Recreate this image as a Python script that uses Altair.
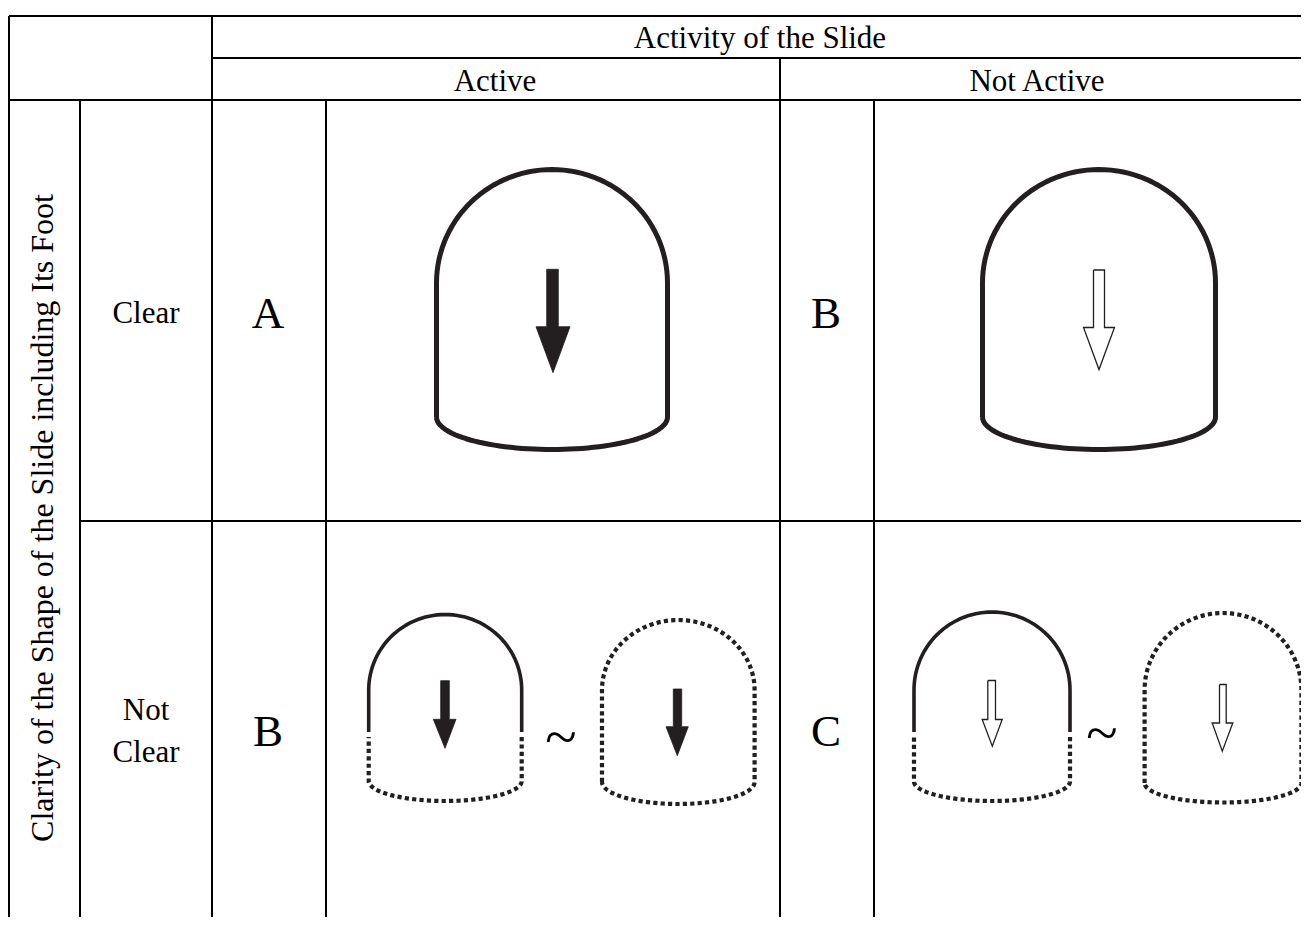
import math
import altair as alt
import pandas as pd

# ---------------- data ----------------
# table grid (horizontal rules: x1, x2, y ; vertical rules: x, y1, y2)
H_X1 = [9, 212, 9, 80]
H_X2 = [1309, 1309, 1309, 1309]
H_Y = [16, 58, 100, 521]
V_X = [9, 80, 212, 326, 780, 874]
V_Y1 = [16, 100, 16, 100, 58, 100]
V_Y2 = [929, 929, 929, 929, 929, 929]

# header / row texts
HEAD_TEXT = ["Activity of the Slide", "Active", "Not Active", "Clear", "Not", "Clear"]
HEAD_X = [760, 495, 1037, 146, 146, 146]
HEAD_Y = [48, 91, 91, 323, 720, 762]
SIDE_TEXT = ["Clarity of the Shape of the Slide including Its Foot"]
SIDE_X = [53]
SIDE_Y = [518]
GRADE_TEXT = ["A", "B", "B", "C"]
GRADE_X = [268, 826, 268, 826]
GRADE_Y = [328, 328, 746, 746]
TILDE_X = [561, 1102]
TILDE_Y = [756, 752]

# large slides (clear shape): centre x, half width, arch top, arch base, side bottom, foot bottom
BIG_CX = [552, 1099]
BIG_RX = [115.5, 116.5]
BIG_TOP = [169.5, 169.5]
BIG_BASE = [283, 283]
BIG_SIDE = [417, 417]
BIG_FOOT = [449.5, 449.5]

# small slides: half-solid ones (head clear, foot unclear)
HALF_CX = [445.2, 992]
HALF_RX = [76.5, 78]
HALF_TOP = [614.5, 612]
HALF_BASE = [690, 690]
HALF_SOLID_END = [732, 732]
HALF_DOT_START = [737, 737]
HALF_SIDE = [781, 781.5]
HALF_FOOT = [801, 801]

# small fully dotted slides
DOT_CX = [678.3, 1223]
DOT_RX = [76.3, 78.4]
DOT_TOP = [620, 613]
DOT_BASE = [690, 690]
DOT_SIDE = [782, 783]
DOT_FOOT = [804, 802.5]

# arrows: shaft left/right/top, head top/left/right, tip x/y, filled?
AR_SL = [546.7, 1093.5, 440.7, 673.3, 987.8, 1219.5]
AR_SR = [558.3, 1104.5, 449.3, 681.7, 995.5, 1226.2]
AR_ST = [269.3, 270, 680.7, 689, 680.5, 684.5]
AR_HT = [326.7, 327.5, 719.3, 726.7, 719.5, 723]
AR_HL = [536, 1083.5, 433.3, 666, 982.2, 1212.2]
AR_HR = [570, 1114.5, 456, 688.3, 1002.2, 1232.8]
AR_TX = [553, 1099, 445, 677.3, 992.3, 1222.3]
AR_TY = [372.7, 369.5, 748.3, 755.7, 746.2, 751.2]
AR_FILLED = [True, False, True, True, False, False]

INK = "#231f20"
FONT = "Liberation Serif"

# ---------------- geometry helpers ----------------
def arch_pts(cx, rx, top, base, n=60):
    ry = base - top
    pts = []
    for i in range(n + 1):
        t = math.pi * i / n
        pts.append((cx - rx * math.cos(t), base - ry * math.sin(t)))
    return pts

def foot_pts(cx, rx, side, foot, n=60):
    ry = foot - side
    pts = []
    for i in range(n + 1):
        t = math.pi * i / n
        pts.append((cx + rx * math.cos(t), side + ry * math.sin(t)))
    return pts

def add_path(rows, pid, pts):
    for k, (x, y) in enumerate(pts):
        rows.append({"pid": pid, "o": k, "x": x, "y": y})

big_rows, small_solid_rows, dotted_rows = [], [], []
for i, cx in enumerate(BIG_CX):
    rx = BIG_RX[i]
    pts = [(cx - rx, BIG_SIDE[i])]
    pts += arch_pts(cx, rx, BIG_TOP[i], BIG_BASE[i])
    pts += [(cx + rx, BIG_SIDE[i])]
    pts += foot_pts(cx, rx, BIG_SIDE[i], BIG_FOOT[i])
    add_path(big_rows, f"big{i}", pts)

for i, cx in enumerate(HALF_CX):
    rx = HALF_RX[i]
    solid = [(cx - rx, HALF_SOLID_END[i])] + arch_pts(cx, rx, HALF_TOP[i], HALF_BASE[i]) + [(cx + rx, HALF_SOLID_END[i])]
    add_path(small_solid_rows, f"half{i}", solid)
    dots = [(cx + rx, HALF_DOT_START[i]), (cx + rx, HALF_SIDE[i])]
    dots += foot_pts(cx, rx, HALF_SIDE[i], HALF_FOOT[i])
    dots += [(cx - rx, HALF_DOT_START[i])]
    add_path(dotted_rows, f"halfdot{i}", dots)

for i, cx in enumerate(DOT_CX):
    rx = DOT_RX[i]
    pts = [(cx - rx, DOT_SIDE[i])]
    pts += arch_pts(cx, rx, DOT_TOP[i], DOT_BASE[i])
    pts += [(cx + rx, DOT_SIDE[i])]
    pts += foot_pts(cx, rx, DOT_SIDE[i], DOT_FOOT[i])
    add_path(dotted_rows, f"dot{i}", pts)

solid_arrow_rows, hollow_arrow_rows = [], []
for i in range(len(AR_SL)):
    pts = [(AR_SL[i], AR_ST[i]), (AR_SR[i], AR_ST[i]), (AR_SR[i], AR_HT[i]), (AR_HR[i], AR_HT[i]),
           (AR_TX[i], AR_TY[i]), (AR_HL[i], AR_HT[i]), (AR_SL[i], AR_HT[i]), (AR_SL[i], AR_ST[i])]
    add_path(solid_arrow_rows if AR_FILLED[i] else hollow_arrow_rows, f"ar{i}", pts)

# ---------------- scales ----------------
W, H = 1293, 909
xs = alt.Scale(domain=[8, 8 + W], nice=False, zero=False)
ys = alt.Scale(domain=[8 + H, 8], nice=False, zero=False)

def X(f="x"):
    return alt.X(f"{f}:Q", scale=xs, axis=None)

def Y(f="y"):
    return alt.Y(f"{f}:Q", scale=ys, axis=None)

hdf = pd.DataFrame({"x": H_X1, "x2": H_X2, "y": H_Y})
vdf = pd.DataFrame({"x": V_X, "y": V_Y1, "y2": V_Y2})

h_rules = alt.Chart(hdf).mark_rule(color="black", strokeWidth=2).encode(
    x=X(), x2="x2:Q", y=Y())
v_rules = alt.Chart(vdf).mark_rule(color="black", strokeWidth=2).encode(
    x=X(), y=Y(), y2="y2:Q")

def path_layer(rows, **kw):
    return alt.Chart(pd.DataFrame(rows)).mark_line(**kw).encode(
        x=X(), y=Y(), detail="pid:N", order="o:Q")

big_layer = path_layer(big_rows, color=INK, strokeWidth=5, strokeJoin="round")
small_layer = path_layer(small_solid_rows, color=INK, strokeWidth=3.6)
dot_layer = path_layer(dotted_rows, color=INK, strokeWidth=4.2, strokeDash=[4.2, 3.2], strokeCap="butt")
solid_arrows = path_layer(solid_arrow_rows, color=INK, fill=INK, strokeWidth=0.8, strokeJoin="miter")
hollow_arrows = path_layer(hollow_arrow_rows, color=INK, strokeWidth=1.3, strokeJoin="miter")

head_df = pd.DataFrame({"t": HEAD_TEXT, "x": HEAD_X, "y": HEAD_Y})
head_text = alt.Chart(head_df).mark_text(font=FONT, fontSize=31, color="black",
                                         align="center", baseline="alphabetic").encode(
    x=X(), y=Y(), text="t:N")

side_df = pd.DataFrame({"t": SIDE_TEXT, "x": SIDE_X, "y": SIDE_Y})
side_text = alt.Chart(side_df).mark_text(font=FONT, fontSize=32, color="black", angle=270,
                                         align="center", baseline="alphabetic").encode(
    x=X(), y=Y(), text="t:N")

grade_df = pd.DataFrame({"t": GRADE_TEXT, "x": GRADE_X, "y": GRADE_Y})
grade_text = alt.Chart(grade_df).mark_text(font=FONT, fontSize=45, color="black",
                                           align="center", baseline="alphabetic").encode(
    x=X(), y=Y(), text="t:N")

tilde_df = pd.DataFrame({"t": ["~"] * len(TILDE_X), "x": TILDE_X, "y": TILDE_Y})
tilde_text = alt.Chart(tilde_df).mark_text(font=FONT, fontSize=58, color="black",
                                           align="center", baseline="alphabetic").encode(
    x=X(), y=Y(), text="t:N")

chart = alt.layer(
    h_rules, v_rules, big_layer, small_layer, dot_layer, solid_arrows, hollow_arrows,
    head_text, side_text, grade_text, tilde_text,
).properties(
    width=W, height=H, padding=0,
    autosize=alt.AutoSizeParams(type="none"),
).configure_view(stroke=None)

chart.save("out.html", embed_options={"renderer": "svg", "actions": False})
